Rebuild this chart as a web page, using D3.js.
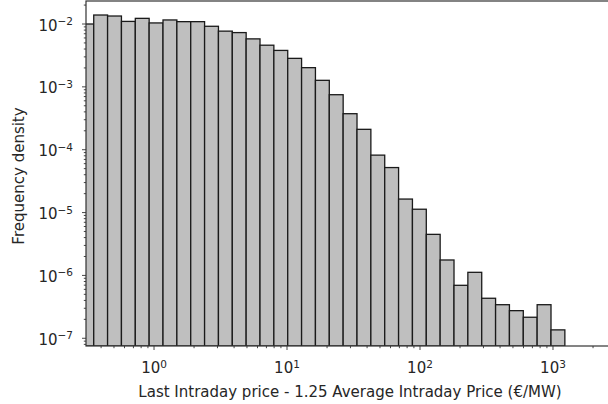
<!DOCTYPE html>
<html>
<head>
<meta charset="utf-8">
<script src="https://cdn.jsdelivr.net/npm/d3@7"></script>
<style>
  body { margin: 0; background: #fff; }
  text { font-family: "DejaVu Sans", sans-serif; fill: #262626; }
</style>
</head>
<body>
<svg id="chart" width="608" height="404"></svg>
<script>
// histogram bins (log spaced, as np.logspace was used)
const binLow = 0.277;
const binHigh = 1228;
const binCount = 35;

// frequency density per bin
const density = [
  1.0e-2, 1.39e-2, 1.34e-2, 1.10e-2, 1.23e-2, 1.04e-2, 1.16e-2, 1.09e-2,
  1.09e-2, 9.2e-3, 7.7e-3, 7.3e-3, 5.8e-3, 4.6e-3, 3.8e-3, 2.84e-3,
  2.02e-3, 1.27e-3, 7.5e-4, 3.74e-4, 2.11e-4, 8.2e-5, 5.2e-5, 1.64e-5,
  1.13e-5, 4.5e-6, 1.76e-6, 6.96e-7, 1.12e-6, 4.33e-7, 3.42e-7, 2.75e-7,
  2.16e-7, 3.42e-7, 1.36e-7
];

const xTickExp = [0, 1, 2, 3];
const yTickExp = [-7, -6, -5, -4, -3, -2];
const xLabel = 'Last Intraday price - 1.25 Average Intraday Price (€/MW)';
const yLabel = 'Frequency density';

const plotL = 86, plotR = 620, plotT = 1, plotB = 346;
const fontSize = '15px';

const svg = d3.select('#chart');

const x = d3.scaleLog().domain([0.308, 3190]).range([plotL, plotR]);
const y = d3.scaleLog().domain([Math.pow(10, -7.123), Math.pow(10, -1.634)]).range([plotB, plotT]);

const lo = Math.log10(binLow);
const step = (Math.log10(binHigh) - lo) / binCount;
const bins = density.map((d, i) => ({
  x0: Math.pow(10, lo + i * step),
  x1: Math.pow(10, lo + (i + 1) * step),
  value: d,
}));

svg.append('clipPath').attr('id', 'plot-clip')
  .append('rect')
  .attr('x', plotL).attr('y', plotT)
  .attr('width', plotR - plotL).attr('height', plotB - plotT);

svg.append('g')
  .attr('clip-path', 'url(#plot-clip)')
  .selectAll('rect')
  .data(bins)
  .join('rect')
  .attr('x', (d) => x(d.x0))
  .attr('width', (d) => x(d.x1) - x(d.x0))
  .attr('y', (d) => y(d.value))
  .attr('height', (d) => plotB - y(d.value))
  .attr('fill', '#bfbfbf')
  .attr('stroke', '#1a1a1a')
  .attr('stroke-width', 1.3);

// minor tick positions inside the domain
const minorTicks = (scale, exps) => {
  const [a, b] = scale.domain();
  const out = [];
  exps.forEach((e) => {
    d3.range(2, 10).forEach((m) => {
      const v = m * Math.pow(10, e);
      if (v > a && v < b) out.push(v);
    });
  });
  return out;
};

const tickLabel = (sel, e) => {
  sel.append('tspan').text('10');
  sel.append('tspan')
    .attr('dy', '-5.5px')
    .attr('font-size', '10.5px')
    .text(e < 0 ? `\u2212${-e}` : `${e}`);
};

// x axis
const xAxis = svg.append('g');
xAxis.selectAll('line.minor')
  .data(minorTicks(x, d3.range(-1, 4)))
  .join('line')
  .attr('x1', (d) => x(d)).attr('x2', (d) => x(d))
  .attr('y1', plotB).attr('y2', plotB + 2.2)
  .attr('stroke', '#333').attr('stroke-width', 0.9);
xAxis.selectAll('line.major')
  .data(xTickExp)
  .join('line')
  .attr('x1', (d) => x(Math.pow(10, d))).attr('x2', (d) => x(Math.pow(10, d)))
  .attr('y1', plotB).attr('y2', plotB + 4)
  .attr('stroke', '#333').attr('stroke-width', 0.9);
xAxis.selectAll('text')
  .data(xTickExp)
  .join('text')
  .attr('x', (d) => x(Math.pow(10, d)))
  .attr('y', plotB + 27)
  .attr('text-anchor', 'middle')
  .attr('font-size', fontSize)
  .each(function (d) { tickLabel(d3.select(this), d); });

// y axis
const yAxis = svg.append('g');
yAxis.selectAll('line.minor')
  .data(minorTicks(y, d3.range(-8, -1)))
  .join('line')
  .attr('x1', plotL - 2.2).attr('x2', plotL)
  .attr('y1', (d) => y(d)).attr('y2', (d) => y(d))
  .attr('stroke', '#333').attr('stroke-width', 0.9);
yAxis.selectAll('line.major')
  .data(yTickExp)
  .join('line')
  .attr('x1', plotL - 4).attr('x2', plotL)
  .attr('y1', (d) => y(Math.pow(10, d))).attr('y2', (d) => y(Math.pow(10, d)))
  .attr('stroke', '#333').attr('stroke-width', 0.9);
yAxis.selectAll('text')
  .data(yTickExp)
  .join('text')
  .attr('x', plotL - 13)
  .attr('y', (d) => y(Math.pow(10, d)) + 6.5)
  .attr('text-anchor', 'end')
  .attr('font-size', fontSize)
  .each(function (d) { tickLabel(d3.select(this), d); });

// spines
svg.append('rect')
  .attr('x', plotL).attr('y', plotT)
  .attr('width', plotR - plotL).attr('height', plotB - plotT)
  .attr('fill', 'none')
  .attr('stroke', '#333').attr('stroke-width', 1.2);

svg.append('text')
  .attr('x', 350)
  .attr('y', 397)
  .attr('text-anchor', 'middle')
  .attr('font-size', fontSize)
  .text(xLabel);

svg.append('text')
  .attr('transform', 'translate(24,176) rotate(-90)')
  .attr('text-anchor', 'middle')
  .attr('font-size', fontSize)
  .text(yLabel);
</script>
</body>
</html>
